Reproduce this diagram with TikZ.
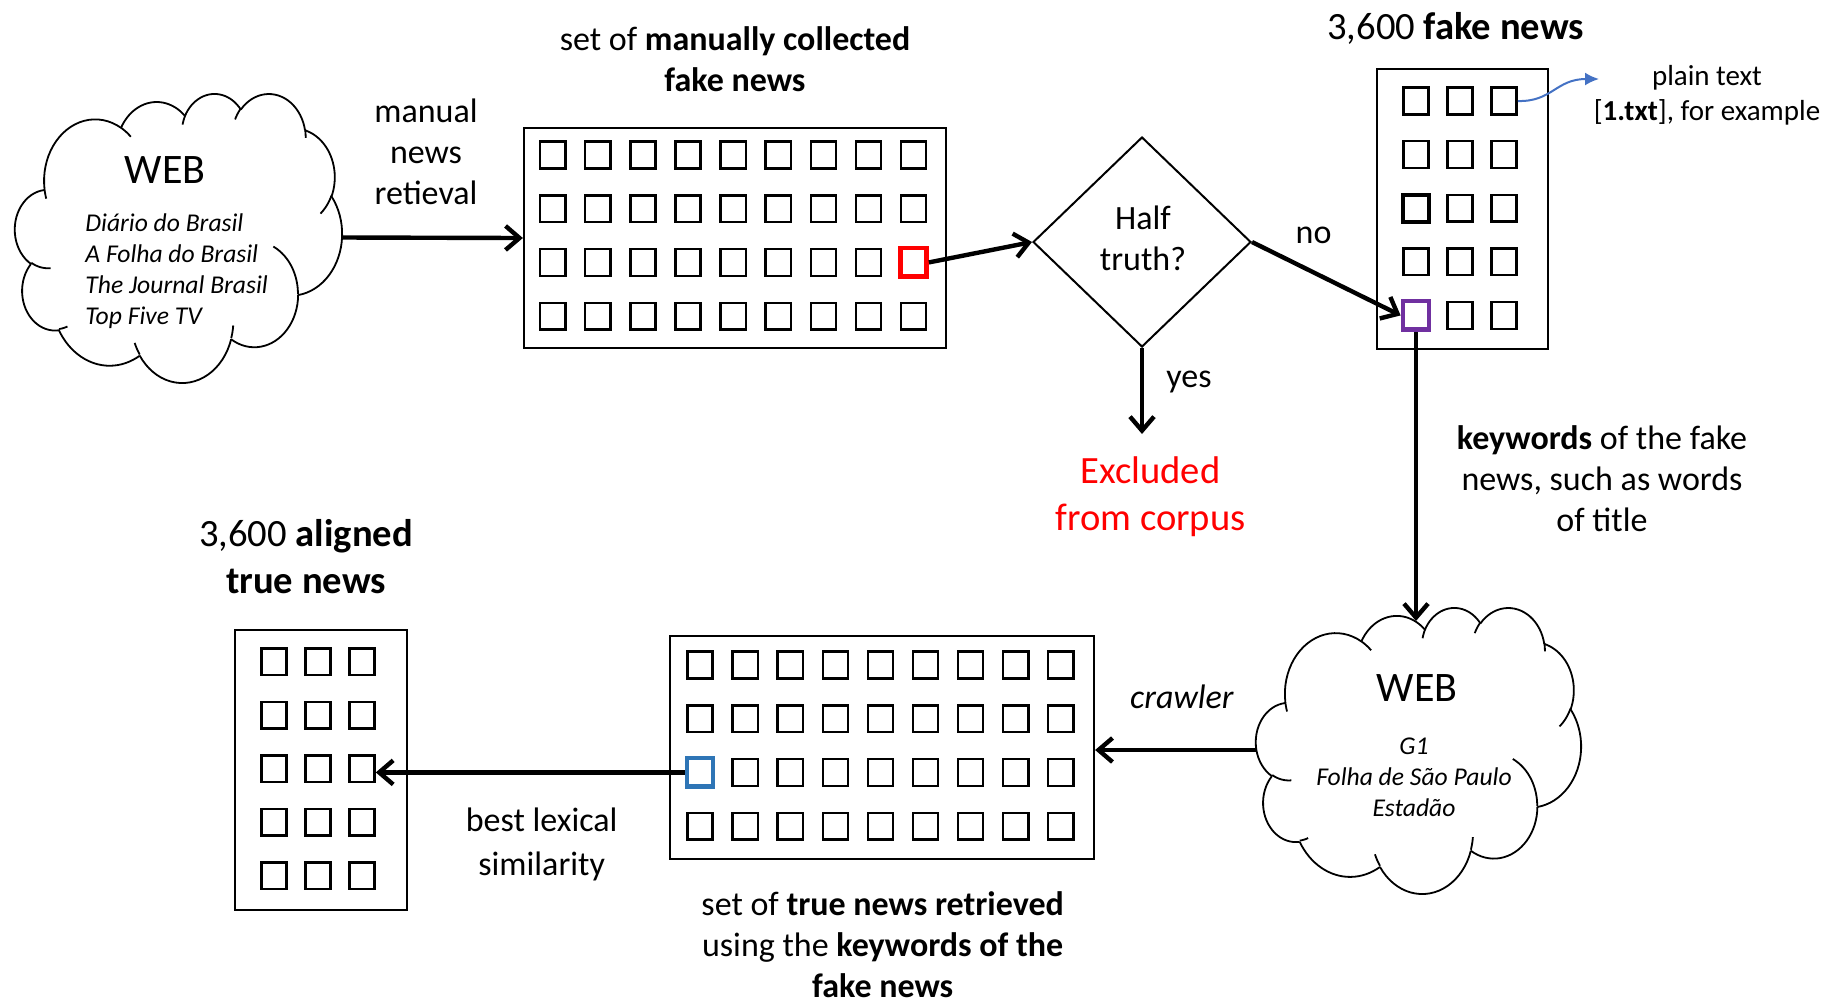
\documentclass[tikz,border=0pt]{standalone}
\usepackage{fontspec}
\setmainfont{Carlito}
\usetikzlibrary{arrows.meta,shapes.geometric}

\definecolor{hlred}{RGB}{255,0,0}
\definecolor{hlpurple}{RGB}{112,48,160}
\definecolor{hlblue}{RGB}{46,117,182}
\definecolor{linkblue}{RGB}{68,114,196}

\tikzset{
  cell/.style={draw, line width=1.2pt, minimum width=12.6pt, minimum height=13.4pt, inner sep=0pt},
  markcell/.style={cell, line width=2.4pt, minimum width=13pt, minimum height=14.4pt},
  redcell/.style={markcell, draw=hlred},
  purplecell/.style={markcell, draw=hlpurple},
  bluecell/.style={markcell, draw=hlblue},
  boldcell/.style={cell, line width=2pt},
  frame/.style={draw, line width=1.1pt, inner sep=0pt},
  flow/.style={line width=2.2pt, -{Straight Barb[length=7pt,width=12pt]}},
  lbl/.style={font=\fontsize{17}{20.5}\selectfont, align=center, inner sep=0pt},
  title/.style={font=\fontsize{19.3}{23.5}\selectfont, align=center, inner sep=0pt},
  webtitle/.style={font=\fontsize{21}{25}\selectfont, inner sep=0pt},
  src/.style={font=\fontsize{12.8}{15.5}\selectfont\itshape, inner sep=0pt},
  cloudline/.style={line width=0.9pt},
}

% one elliptic arc of the cloud outline, continuing from (\ooPx,\ooPy);
% #1,#2 radii, #3 start ray angle, #4 sweep (degrees)
\newcommand\ooarc[4]{%
  \pgfmathsetmacro\ooTa{atan2((#1)*sin(#3),(#2)*cos(#3))}%
  \pgfmathsetmacro\ooTb{atan2((#1)*sin((#3)+(#4)),(#2)*cos((#3)+(#4)))}%
  \pgfmathsetmacro\ooTb{(\ooTb)<(\ooTa) ? (\ooTb)+360 : (\ooTb)}%
  \pgfmathsetmacro\ooCx{\ooPx-(#1)*cos(\ooTa)}%
  \pgfmathsetmacro\ooCy{\ooPy-(#2)*sin(\ooTa)}%
  \draw[cloudline] plot[domain=\ooTa:\ooTb,samples=25] ({\ooCx+(#1)*cos(\x)},{\ooCy+(#2)*sin(\x)});%
  \pgfmathsetmacro\ooPx{\ooCx+(#1)*cos(\ooTb)}%
  \pgfmathsetmacro\ooPy{\ooCy+(#2)*sin(\ooTb)}%
}
\newcommand\oohook[6]{\def\ooPx{#1}\def\ooPy{#2}\ooarc{#3}{#4}{#5}{#6}}

% cloud outline in a 432 x 432 frame, placed at (#1,#2) with size #3 x #4
\newcommand\webcloud[4]{%
  \begin{scope}[shift={(#1,#2)},xscale=#3/432,yscale=#4/432]
    \def\ooPx{39}\def\ooPy{143.7}
    \ooarc{67.53}{91.90}{-190.4875}{123.7805}
    \ooarc{53.33}{72.67}{-144.1024}{89.9452}
    \ooarc{43.65}{59.45}{-145.8079}{99.7230}
    \ooarc{48.57}{65.95}{-130.9861}{117.2417}
    \ooarc{53.33}{72.73}{-78.7089}{109.0269}
    \ooarc{67.75}{92.20}{-46.2673}{130.2690}
    \ooarc{57.85}{78.67}{0.6250}{114.0333}
    \ooarc{67.52}{92.15}{22.4516}{115.1726}
    \ooarc{77.20}{105.43}{66.2426}{75.7110}
    \ooarc{43.60}{59.18}{-274.9421}{146.7356}
    \ooarc{43.45}{59.45}{-246.8285}{152.5189}
    \oohook{46.93}{261.77}{43.45}{59.45}{86.7420}{26.4295}
    \oohook{69.28}{348.99}{43.60}{59.18}{73.6105}{11.4475}
    \oohook{164.78}{390.90}{67.52}{92.15}{137.6241}{14.0811}
    \oohook{288.27}{347.51}{67.52}{92.15}{6.4533}{15.9984}
    \oohook{341.29}{229.54}{57.85}{78.67}{-70.2924}{70.9174}
    \oohook{417.98}{153.54}{53.33}{72.73}{30.3180}{27.7515}
    \oohook{383.24}{54.26}{48.57}{65.95}{-13.7443}{14.8599}
    \oohook{290.78}{39.52}{48.57}{65.95}{-149.1815}{18.1968}
    \oohook{221.41}{47.20}{43.65}{59.45}{-163.4943}{17.6875}
    \oohook{140.00}{51.92}{67.53}{91.90}{-66.7070}{12.3194}
    \oohook{41.27}{157.89}{67.53}{91.90}{157.6544}{11.8582}
  \end{scope}}

\begin{document}
\begin{tikzpicture}[x=0.5pt,y=-0.5pt]
\useasboundingbox (0,0) rectangle (1826,1003);

% ---------- source web (left) ----------
\webcloud{15}{93}{327}{289}
\node[minimum width=163.5pt, minimum height=144.5pt, inner sep=0pt] (web1) at (178.5,237.5) {};
\node[webtitle] (web1-t) at (165,170) {WEB};
\node[src, align=left, anchor=west] (web1-s) at (85,271.5)
  {Diário do Brasil\\A Folha do Brasil\\The Journal Brasil\\Top Five TV};
\node[lbl] (manual) at (426,151.5) {manual\\news\\retieval};

% ---------- manually collected fake news ----------
\node[lbl] (set1-t) at (735,59.4) {set of \textbf{manually collected}\\\textbf{fake news}};
\node[frame, minimum width=211pt, minimum height=110pt] (set1) at (735,238) {};
\foreach \r/\y in {1/155,2/208.7,3/262.4,4/316.1}
  \foreach \c in {1,...,9} {
    \edef\cellstyle{\ifnum\r=3 \ifnum\c=9 redcell\else cell\fi\else cell\fi}
    \node[\cellstyle] (s1-\r-\c) at ({552.7+45.1*(\c-1)},\y) {};
  }

% ---------- decision ----------
\node[diamond, draw, line width=1pt, minimum width=109pt, minimum height=105pt, inner sep=0pt] (half) at (1142,242) {};
\node[lbl] (half-t) at (1143,238.5) {Half\\truth?};
\node[lbl] (lno) at (1313.6,235) {no};
\node[lbl] (lyes) at (1189,381.5) {yes};
\coordinate (excl-in) at (1142,434);
\node[title, text=hlred] (excl) at (1150.5,497) {Excluded\\from corpus};

% ---------- 3,600 fake news ----------
\node[title] (set2-t) at (1455.6,28) {3,600 \textbf{fake news}};
\node[frame, minimum width=85.5pt, minimum height=140pt] (set2) at (1462.5,209) {};
\foreach \r/\y in {1/101,2/154.6,3/208.2,4/261.8,5/315.4}
  \foreach \c/\x in {1/1416,2/1460,3/1504} {
    \edef\cellstyle{\ifnum\c=1 \ifnum\r=5 purplecell\else\ifnum\r=3 boldcell\else cell\fi\fi\else cell\fi}
    \node[\cellstyle] (s2-\r-\c) at (\x,\y) {};
  }
\node[font=\fontsize{14.5}{17.5}\selectfont, align=center, inner sep=0pt] (plain) at (1707,95.5)
  {plain text\\{[}\textbf{1.txt}{]}, for example};
\coordinate (plain-in) at (1599,79);
\node[lbl] (kw) at (1602,478.6) {\textbf{keywords} of the fake\\news, such as words\\of title};

% ---------- target web (right) ----------
\webcloud{1256}{607}{325}{286}
\node[minimum width=162.5pt, minimum height=143pt, inner sep=0pt] (web2) at (1418.5,750) {};
\coordinate (web2-in) at (1416,621);
\node[webtitle] (web2-t) at (1417,688) {WEB};
\node[src, align=center] (web2-s) at (1414,777.5) {G1\\Folha de São Paulo\\Estadão};
\node[lbl] (crawl) at (1182,697) {\textit{crawler}};

% ---------- retrieved true news ----------
\node[frame, minimum width=212pt, minimum height=111.5pt] (set3) at (882,747.5) {};
\foreach \r/\y in {1/665,2/718.7,3/772.4,4/826.1}
  \foreach \c in {1,...,9} {
    \edef\cellstyle{\ifnum\r=3 \ifnum\c=1 bluecell\else cell\fi\else cell\fi}
    \node[\cellstyle] (s3-\r-\c) at ({700+45.1*(\c-1)},\y) {};
  }
\node[lbl] (set3-t) at (882.7,945) {set of \textbf{true news retrieved}\\using the \textbf{keywords of the}\\\textbf{fake news}};

% ---------- aligned true news ----------
\node[title] (set4-t) at (306,557) {3,600 \textbf{aligned}\\\textbf{true news}};
\node[frame, minimum width=86pt, minimum height=140pt] (set4) at (321,770) {};
\foreach \r/\y in {1/661.7,2/715.2,3/768.7,4/822.2,5/875.7}
  \foreach \c/\x in {1/274,2/318,3/362}
    \node[cell] (s4-\r-\c) at (\x,\y) {};
\node[lbl, font=\fontsize{17}{21.75}\selectfont] (sim) at (541.7,844.6) {best lexical\\similarity};

% ---------- connectors ----------
\draw[flow] (web1.east) -- (set1.west);
\draw[flow] (s1-3-9.east) -- (half.west);
\draw[flow] (half.east) -- (s2-5-1.west);
\draw[flow] (half.south) -- (excl-in);
\draw[flow] (s2-5-1.south) -- (web2-in);
\draw[flow] (web2.west) -- (web2.west -| set3.east);
\draw[flow] (s3-3-1.west) -- (s3-3-1.west -| s4-3-3.east);
\draw[line width=1pt, linkblue, -{Latex[length=7pt,width=6.5pt]}]
  (s2-1-3.east) .. controls (1552,102) and (1556,79) .. (plain-in);

\end{tikzpicture}
\end{document}
